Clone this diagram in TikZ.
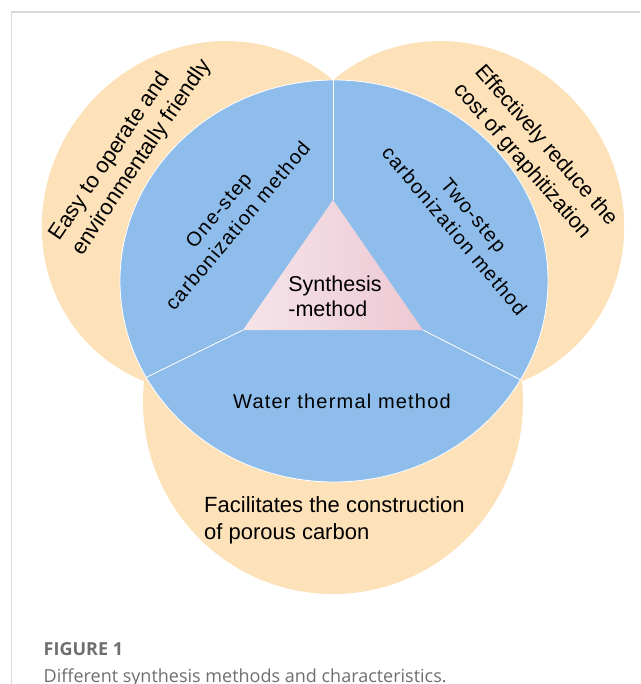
\documentclass[tikz,border=0pt]{standalone}
\usepackage{fontspec}
\setmainfont{Liberation Sans}
\newfontfamily\capfont{Open Sans}
\newfontfamily\widefont{Liberation Sans}[LetterSpace=6]
\usetikzlibrary{positioning}

\definecolor{peach}{RGB}{253,225,184}
\definecolor{skyblue}{RGB}{143,189,235}
\definecolor{pinklight}{RGB}{245,228,233}
\definecolor{pinkdark}{RGB}{237,200,211}
\definecolor{framegray}{RGB}{218,218,218}
\definecolor{capgray}{RGB}{110,110,110}

\tikzset{
	outertext/.style={font=\fontsize{22}{27}\selectfont, inner sep=0pt, align=left},
	innertext/.style={font=\widefont\fontsize{20}{25}\selectfont, inner sep=0pt, align=center},
	divider/.style={white, line width=0.8pt}
}

\begin{document}
\begin{tikzpicture}[x=1pt, y=-1pt]
			\useasboundingbox (0,0) rectangle (640,684);
			\draw[framegray, line width=1.2pt] (640,12) -- (11.5,12) -- (11.5,684);		% frame
			
			% three characteristic circles
			\fill[peach, rotate around={50:(216,217)}] (216,217) ellipse (180 and 170);
			\fill[peach, rotate around={-50:(450,217)}] (450,217) ellipse (180 and 170);
			\fill[peach] (333,402) ellipse (190 and 192);
			
			% method circle
			\fill[skyblue] (334,281) ellipse (214 and 201);
			\draw[divider] (334,281) ellipse (214 and 201);
			
			% triangle in the middle
			\coordinate (apex) at (333,200);
			\coordinate (baseL) at (243,330);
			\coordinate (baseR) at (423,330);
			\coordinate (rimT) at (333,80);
			\coordinate (rimL) at (145,378);
			\coordinate (rimR) at (521,380);
			\shade[left color=pinklight, right color=pinkdark] (apex) -- (baseL) -- (baseR) -- cycle;
			
			% dividing the circle
			\draw[divider] (apex) -- (rimT);
			\draw[divider] (baseL) -- (rimL);
			\draw[divider] (baseR) -- (rimR);
			
			% texts
			\node[font=\fontsize{21.5}{25}\selectfont, inner sep=0pt, align=left] (synth) at (335,296) {Synthesis\\-method};
			\node[innertext, rotate=50] (onestep) at (228,218) {One-step\\carbonization method};
			\node[innertext, rotate=-50] (twostep) at (464,223) {Two-step\\carbonization method};
			\node[innertext] (water) at (342,401) {Water thermal method};
			
			\node[outertext, rotate=56] (easy) at (131,150) {Easy to operate and\\environmentally friendly};
			\node[outertext, rotate=-49, font=\fontsize{21.5}{28}\selectfont] (reduce) at (535,155) {Effectively reduce the\\cost of graphitization};
			\node[outertext, anchor=west] (porous) at (204,520) {Facilitates the construction\\of porous carbon};
			
			% caption
			\node[font=\capfont\bfseries\fontsize{18}{22}\selectfont, text=capgray, anchor=base west, inner sep=0pt] (figno) at (43.5,655) {FIGURE 1};
			\node[font=\capfont\fontsize{18}{22}\selectfont, text=capgray, anchor=base west, inner sep=0pt] (caption) at (43.5,682) {Different synthesis methods and characteristics.};
\end{tikzpicture}
\end{document}
